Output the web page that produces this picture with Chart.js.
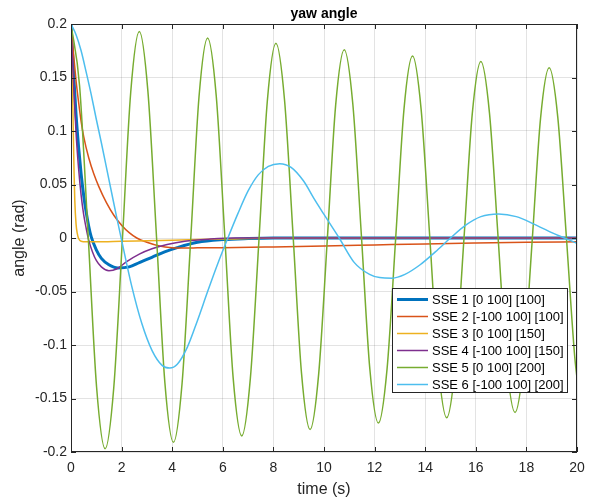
<!DOCTYPE html>
<html>
<head>
<meta charset="utf-8">
<script src="https://cdn.jsdelivr.net/npm/chart.js@4.4.1/dist/chart.umd.min.js"></script>
<style>
  html, body { margin: 0; padding: 0; background: #fff; }
  #wrap { width: 596px; height: 499px; position: relative; }
</style>
</head>
<body>
<div id="wrap"><canvas id="yawChart"></canvas></div>
<script>
const xTicks = [0, 2, 4, 6, 8, 10, 12, 14, 16, 18, 20];
const yTicks = [-0.2, -0.15, -0.1, -0.05, 0, 0.05, 0.1, 0.15, 0.2];

const seriesNames = [
  'SSE 1 [0 100] [100]',
  'SSE 2 [-100 100] [100]',
  'SSE 3 [0 100] [150]',
  'SSE 4 [-100 100] [150]',
  'SSE 5 [0 100] [200]',
  'SSE 6 [-100 100] [200]',
];

const timeSse1 = [0, 0.1, 0.2, 0.3, 0.4, 0.5, 0.6, 0.7, 0.8, 1.0, 1.2, 1.5, 1.85, 2.3, 2.7, 3.2, 3.7, 4.2, 5.0, 6.0, 7.0, 8.0, 20];
const angleSse1 = [0.2, 0.155, 0.115, 0.085, 0.06, 0.04, 0.024, 0.011, 0.001, -0.011, -0.019, -0.025, -0.028, -0.027, -0.023, -0.018, -0.013, -0.009, -0.004, -0.0015, -0.0005, 0, 0];

const timeSse2 = [0, 0.1, 0.2, 0.3, 0.4, 0.5, 0.7, 0.9, 1.1, 1.4, 1.7, 2.0, 2.3, 2.6, 3.0, 3.5, 4.0, 4.5, 5.0, 6.0, 8.0, 10, 12, 14, 16, 18, 20];
const angleSse2 = [0.2, 0.172, 0.147, 0.127, 0.109, 0.095, 0.075, 0.06, 0.048, 0.033, 0.021, 0.012, 0.005, 0.0, -0.004, -0.0075, -0.009, -0.0093, -0.0092, -0.009, -0.0083, -0.0075, -0.0065, -0.0055, -0.0047, -0.004, -0.0035];

const timeSse3 = [0, 0.03, 0.06, 0.09, 0.12, 0.15, 0.2, 0.25, 0.3, 0.4, 0.6, 1.0, 2.0, 3.0, 4.0, 5.0, 6.0, 8.0, 20];
const angleSse3 = [0.2, 0.175, 0.14, 0.1, 0.062, 0.035, 0.013, 0.004, -0.0005, -0.003, -0.0035, -0.0035, -0.003, -0.0025, -0.002, -0.0015, -0.001, 0, 0];

const timeSse4 = [0, 0.1, 0.2, 0.3, 0.4, 0.5, 0.6, 0.7, 0.85, 1.0, 1.2, 1.5, 1.8, 2.2, 2.7, 3.2, 3.8, 4.5, 5.5, 6.5, 20];
const angleSse4 = [0.2, 0.145, 0.098, 0.065, 0.04, 0.022, 0.009, -0.002, -0.013, -0.021, -0.027, -0.0305, -0.029, -0.022, -0.015, -0.01, -0.006, -0.003, -0.001, 0, 0];

const timeSse5 = [
  0, 0.34, 0.68, 1.01, 1.35, 1.69, 2.03, 2.36, 2.70, 3.04, 3.38, 3.71, 4.05, 4.39, 4.73, 5.06,
  5.40, 5.74, 6.08, 6.41, 6.75, 7.09, 7.43, 7.76, 8.10, 8.44, 8.78, 9.11, 9.45, 9.79, 10.13, 10.46,
  10.80, 11.14, 11.48, 11.81, 12.15, 12.49, 12.83, 13.16, 13.50, 13.84, 14.18, 14.51, 14.85, 15.19, 15.53, 15.86,
  16.20, 16.54, 16.88, 17.21, 17.55, 17.89, 18.23, 18.56, 18.90, 19.24, 19.58, 19.91, 20,
];
const angleSse5 = [
  0.2, 0.142, 0.0015, -0.139, -0.197, -0.140, -0.002, 0.136, 0.193, 0.137, 0.001, -0.135, -0.191, -0.136, -0.002, 0.132,
  0.187, 0.133, 0.001, -0.131, -0.185, -0.131, -0.0015, 0.128, 0.182, 0.129, 0.0015, -0.126, -0.179, -0.127, -0.0015, 0.124,
  0.176, 0.125, 0.0015, -0.122, -0.173, -0.123, -0.0015, 0.120, 0.170, 0.120, 0.001, -0.118, -0.168, -0.119, -0.0015, 0.116,
  0.165, 0.117, 0.001, -0.115, -0.163, -0.116, -0.002, 0.112, 0.159, 0.113, 0.001, -0.111, -0.131,
];

const timeSse6 = [0, 0.2, 0.4, 0.6, 0.8, 1.0, 1.2, 1.4, 1.6, 1.8, 2.0, 2.4, 2.8, 3.2, 3.6, 3.9, 4.2, 4.6, 5.0, 5.4, 5.8, 6.2, 6.6, 7.0, 7.4, 7.8, 8.25, 8.7, 9.2, 9.6, 10.0, 10.6, 11.2, 11.8, 12.2, 12.7, 13.2, 13.8, 14.4, 15.0, 15.6, 16.2, 16.9, 17.6, 18.3, 19.0, 19.5, 20];
const angleSse6 = [0.2, 0.19, 0.175, 0.155, 0.134, 0.111, 0.089, 0.066, 0.043, 0.02, -0.002, -0.045, -0.08, -0.105, -0.119, -0.1215, -0.118, -0.102, -0.077, -0.05, -0.024, 0.0, 0.023, 0.044, 0.059, 0.067, 0.0695, 0.066, 0.053, 0.037, 0.022, 0.0, -0.023, -0.034, -0.037, -0.0375, -0.034, -0.025, -0.013, 0.0, 0.012, 0.02, 0.0225, 0.02, 0.013, 0.005, 0.0, -0.005];

const seriesTimes = [timeSse1, timeSse2, timeSse3, timeSse4, timeSse5, timeSse6];
const seriesAngles = [angleSse1, angleSse2, angleSse3, angleSse4, angleSse5, angleSse6];
const seriesColors = ['#0072BD', '#D95319', '#EDB120', '#7E2F8E', '#77AC30', '#4DBEEE'];
const seriesWidths = [3, 1.5, 1.5, 1.5, 1.5, 1.5];

const axisColor = '#262626';
const fontFamily = '"Liberation Sans", Arial, Helvetica, sans-serif';

// MATLAB-like box, inward ticks, title and in-axes legend
const matlabAxes = {
  id: 'matlabAxes',
  afterDatasetsDraw(chart) {
    const { ctx, chartArea: area, scales } = chart;
    ctx.save();
    ctx.strokeStyle = axisColor;
    ctx.lineWidth = 1;
    ctx.strokeRect(area.left + 0.5, area.top + 0.5, area.right - area.left - 1, area.bottom - area.top - 1);
    const tickLen = 5;
    ctx.beginPath();
    xTicks.forEach(value => {
      const px = Math.round(scales.x.getPixelForValue(value)) + 0.5;
      ctx.moveTo(px, area.bottom);
      ctx.lineTo(px, area.bottom - tickLen);
      ctx.moveTo(px, area.top);
      ctx.lineTo(px, area.top + tickLen);
    });
    yTicks.forEach(value => {
      const py = Math.round(scales.y.getPixelForValue(value)) + 0.5;
      ctx.moveTo(area.left, py);
      ctx.lineTo(area.left + tickLen, py);
      ctx.moveTo(area.right, py);
      ctx.lineTo(area.right - tickLen, py);
    });
    ctx.stroke();

    ctx.fillStyle = '#000';
    ctx.font = `bold 14px ${fontFamily}`;
    ctx.textAlign = 'center';
    ctx.textBaseline = 'alphabetic';
    ctx.fillText('yaw angle', (area.left + area.right) / 2, 18);

    const box = { left: 392, top: 288, right: 568, bottom: 393 };
    ctx.fillStyle = '#fff';
    ctx.fillRect(box.left, box.top, box.right - box.left, box.bottom - box.top);
    ctx.strokeStyle = axisColor;
    ctx.strokeRect(box.left + 0.5, box.top + 0.5, box.right - box.left - 1, box.bottom - box.top - 1);
    ctx.font = `13px ${fontFamily}`;
    ctx.textAlign = 'left';
    ctx.textBaseline = 'middle';
    chart.data.datasets.forEach((dataset, index) => {
      const rowY = 299.5 + index * 17;
      ctx.strokeStyle = dataset.borderColor;
      ctx.lineWidth = dataset.borderWidth;
      ctx.beginPath();
      ctx.moveTo(397, rowY);
      ctx.lineTo(428, rowY);
      ctx.stroke();
      ctx.fillStyle = '#000';
      ctx.fillText(dataset.label, 432, rowY + 0.5);
    });
    ctx.restore();
  },
};

const datasets = seriesNames.map((name, index) => ({
  label: name,
  data: seriesTimes[index].map((t, i) => ({ x: t, y: seriesAngles[index][i] })),
  borderColor: seriesColors[index],
  backgroundColor: seriesColors[index],
  borderWidth: seriesWidths[index],
  pointRadius: 0,
  cubicInterpolationMode: 'monotone',
  order: seriesNames.length - index,
}));

const chart = new Chart(document.getElementById('yawChart'), {
  type: 'line',
  data: { datasets },
  options: {
    responsive: true,
    maintainAspectRatio: false,
    animation: false,
    layout: { padding: { top: 24, right: 19, left: 0, bottom: 0 } },
    scales: {
      x: {
        type: 'linear',
        min: 0,
        max: 20,
        afterBuildTicks: scale => { scale.ticks = xTicks.map(value => ({ value })); },
        afterFit: scale => { scale.height = 47; },
        grid: { color: 'rgba(38,38,38,0.13)', drawTicks: false },
        border: { display: false },
        ticks: {
          padding: 8,
          color: axisColor,
          font: { family: fontFamily, size: 14 },
          callback: value => String(value),
        },
        title: {
          display: true,
          text: 'time (s)',
          color: axisColor,
          font: { family: fontFamily, size: 16 },
          padding: { top: 0, bottom: 0 },
        },
      },
      y: {
        min: -0.2,
        max: 0.2,
        afterBuildTicks: scale => { scale.ticks = yTicks.map(value => ({ value })); },
        afterFit: scale => { scale.width = 71; },
        grid: { color: 'rgba(38,38,38,0.13)', drawTicks: false },
        border: { display: false },
        ticks: {
          padding: 4,
          color: axisColor,
          font: { family: fontFamily, size: 14 },
          callback: value => String(Number(value.toFixed(2))),
        },
        title: {
          display: true,
          text: 'angle (rad)',
          color: axisColor,
          font: { family: fontFamily, size: 16 },
          padding: { top: 10, bottom: 0 },
        },
      },
    },
    plugins: {
      legend: { display: false },
      tooltip: { enabled: false },
    },
  },
  plugins: [matlabAxes],
});
</script>
</body>
</html>
